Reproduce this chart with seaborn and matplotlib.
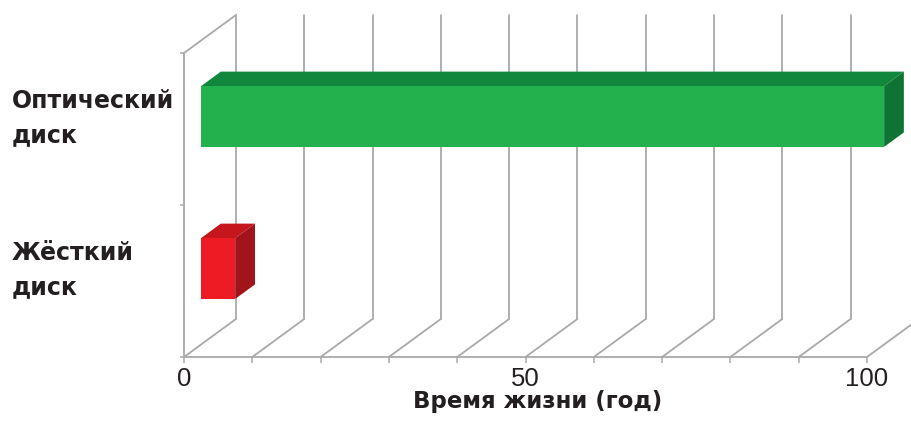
import matplotlib
matplotlib.use("Agg")
import matplotlib.pyplot as plt
from matplotlib.patches import Polygon
from matplotlib.transforms import Affine2D, blended_transform_factory
import seaborn as sns
import pandas as pd

# Data
categories = ["Оптический\nдиск", "Жёсткий\nдиск"]
lifetimes = [100, 5]
x_ticks = [0, 10, 20, 30, 40, 50, 60, 70, 80, 90, 100]
x_tick_labels = ["0", "", "", "", "", "50", "", "", "", "", "100"]
x_label = "Время жизни (год)"

# Face colours: front, top, side
front_colors = ["#22B14C", "#ED1C24"]
top_colors = ["#10873C", "#C4161C"]
side_colors = ["#0D7433", "#A1141A"]

# Pseudo-3D depth of the plot box in data units (x, y); y axis is inverted
DEPTH_X, DEPTH_Y = 7.6, -0.25
BAR_Z0, BAR_Z1 = 0.33, 0.71
BAR_WIDTH = 0.4
GRID_COLOR = "#A9A9A9"
TEXT_COLOR = "#231F20"

sns.set_theme(style="white")
plt.rcParams["font.family"] = ["Liberation Sans", "DejaVu Sans"]

df = pd.DataFrame({"category": categories, "lifetime": lifetimes})

fig = plt.figure(figsize=(9.11, 4.26), dpi=100)
ax = fig.add_axes([184 / 911, 69 / 426, 683 / 911, 304 / 426])

sns.barplot(data=df, y="category", x="lifetime", hue="category",
            palette=front_colors, orient="h", width=BAR_WIDTH,
            legend=False, ax=ax, saturation=1, zorder=5)

ax.set_xlim(0, 100)
ax.set_ylim(1.5, -0.5)
y_bottom, y_top = 1.5, -0.5

# Gridlines: floor diagonals and back-wall verticals
for xv in x_ticks:
    ax.plot([xv, xv + DEPTH_X], [y_bottom, y_bottom + DEPTH_Y],
            color=GRID_COLOR, lw=1.3, clip_on=False, zorder=1)
    ax.plot([xv + DEPTH_X, xv + DEPTH_X], [y_bottom + DEPTH_Y, y_top + DEPTH_Y],
            color=GRID_COLOR, lw=1.3, clip_on=False, zorder=1)
# Top edge of the left wall
ax.plot([0, DEPTH_X], [y_top, y_top + DEPTH_Y],
        color=GRID_COLOR, lw=1.3, clip_on=False, zorder=1)

# Extrude the bars into boxes
shift = Affine2D().translate(BAR_Z0 * DEPTH_X, BAR_Z0 * DEPTH_Y)
dz = BAR_Z1 - BAR_Z0
for i, bar in enumerate(ax.patches):
    bar.set_transform(shift + ax.transData)
    bar.set_clip_on(False)
    bar.set_edgecolor("none")
    x0 = bar.get_x() + BAR_Z0 * DEPTH_X
    x1 = x0 + bar.get_width()
    yt = bar.get_y() + BAR_Z0 * DEPTH_Y
    yb = yt + bar.get_height()
    top = Polygon([(x0, yt), (x1, yt), (x1 + dz * DEPTH_X, yt + dz * DEPTH_Y),
                   (x0 + dz * DEPTH_X, yt + dz * DEPTH_Y)],
                  closed=True, facecolor=top_colors[i], edgecolor="none",
                  clip_on=False, zorder=5)
    side = Polygon([(x1, yt), (x1, yb), (x1 + dz * DEPTH_X, yb + dz * DEPTH_Y),
                    (x1 + dz * DEPTH_X, yt + dz * DEPTH_Y)],
                   closed=True, facecolor=side_colors[i], edgecolor="none",
                   clip_on=False, zorder=5)
    ax.add_patch(top)
    ax.add_patch(side)

# Front axes
for s in ["top", "right"]:
    ax.spines[s].set_visible(False)
for s in ["left", "bottom"]:
    ax.spines[s].set_color(GRID_COLOR)
    ax.spines[s].set_linewidth(1.3)
    ax.spines[s].set_zorder(2)

ax.set_xticks(x_ticks)
ax.set_xticklabels(x_tick_labels)
ax.tick_params(axis="x", direction="out", length=4, width=1.1, color=GRID_COLOR,
               labelsize=18.5, labelcolor=TEXT_COLOR, pad=3, bottom=True)
ax.set_yticks([-0.5, 0.5, 1.5])
ax.set_yticklabels(["", "", ""])
ax.tick_params(axis="y", direction="out", length=3, width=1.1, color=GRID_COLOR, left=True)
ax.set_ylabel("")
ax.set_xlabel(x_label, fontsize=16.5, fontweight="bold", color=TEXT_COLOR,
              family=["DejaVu Sans"])
ax.xaxis.set_label_coords(0.518, -0.108)

# Category labels, aligned with the bar faces
label_tr = blended_transform_factory(fig.transFigure, shift + ax.transData)
for i, cat in enumerate(categories):
    ax.text(12 / 911, i + 0.01, cat, transform=label_tr, ha="left", va="center",
            fontsize=17, fontweight="bold", color=TEXT_COLOR, linespacing=1.55,
            family=["DejaVu Sans"])

fig.savefig("out.png", dpi=100)
